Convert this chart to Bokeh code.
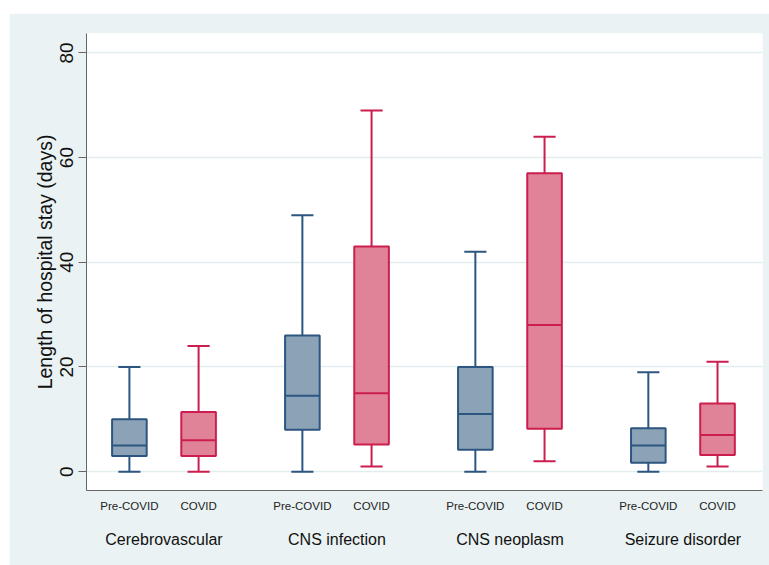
from bokeh.plotting import figure
from bokeh.layouts import column, row
from bokeh.models import Spacer, Range1d, FixedTicker, LinearAxis, ColumnDataSource
from bokeh.embed import file_html
from bokeh.resources import INLINE

# ---- data ----
groups = ["Cerebrovascular", "CNS infection", "CNS neoplasm", "Seizure disorder"]
periods = ["Pre-COVID", "COVID"]

pre_low = [0, 0, 0, 0]
pre_q1 = [3, 8, 4.2, 1.7]
pre_med = [5, 14.5, 11, 5]
pre_q3 = [10, 26, 20, 8.3]
pre_high = [20, 49, 42, 19]

covid_low = [0, 1, 2, 1]
covid_q1 = [3, 5.2, 8.2, 3.2]
covid_med = [6, 15, 28, 7]
covid_q3 = [11.4, 43, 57, 13]
covid_high = [24, 69, 64, 21]

y_ticks = [0, 20, 40, 60, 80]

# ---- styling ----
BG = "#EAF2F3"
FONT = "Liberation Sans"
GROUP_STEP = 5
OFFSET = 2
BOX_W = 1.0
CAP_W = 0.64

series = [
    (pre_low, pre_q1, pre_med, pre_q3, pre_high, "#8CA3B7", "#2C5680"),
    (covid_low, covid_q1, covid_med, covid_q3, covid_high, "#E08399", "#CC1E4E"),
]

p = figure(width=760, height=552, output_backend="svg", toolbar_location=None,
           x_range=Range1d(-1.24, 18.3), y_range=Range1d(-3.6, 83.7),
           min_border_left=77, min_border_right=7, min_border_top=20, min_border_bottom=75)
p.background_fill_color = "white"
p.border_fill_color = BG
p.outline_line_color = None

for s, (lo, q1, med, q3, hi, fill, line) in enumerate(series):
    xs = [g * GROUP_STEP + s * OFFSET for g in range(len(groups))]
    src = ColumnDataSource(dict(
        x=xs, lo=lo, q1=q1, med=med, q3=q3, hi=hi,
        xl=[x - BOX_W / 2 for x in xs], xr=[x + BOX_W / 2 for x in xs],
        cl=[x - CAP_W / 2 for x in xs], cr=[x + CAP_W / 2 for x in xs],
    ))
    # whiskers
    p.segment(x0="x", y0="q3", x1="x", y1="hi", source=src, line_color=line, line_width=2)
    p.segment(x0="x", y0="lo", x1="x", y1="q1", source=src, line_color=line, line_width=2)
    p.segment(x0="cl", y0="hi", x1="cr", y1="hi", source=src, line_color=line, line_width=2)
    p.segment(x0="cl", y0="lo", x1="cr", y1="lo", source=src, line_color=line, line_width=2)
    # box
    p.vbar(x="x", width=BOX_W, bottom="q1", top="q3", source=src,
           fill_color=fill, line_color=line, line_width=2)
    # median
    p.segment(x0="xl", y0="med", x1="xr", y1="med", source=src, line_color=line, line_width=2)

# grid
p.xgrid.grid_line_color = None
p.ygrid.ticker = FixedTicker(ticks=y_ticks)
p.ygrid.grid_line_color = "#E3EDEE"
p.ygrid.grid_line_width = 1.5
p.ygrid.level = "underlay"

# y axis
ya = p.yaxis[0]
ya.ticker = FixedTicker(ticks=y_ticks)
ya.axis_label = "Length of hospital stay (days)"
ya.axis_label_text_font = FONT
ya.axis_label_text_font_size = "19.5px"
ya.axis_label_text_font_style = "normal"
ya.axis_label_text_color = "#111111"
ya.axis_label_standoff = 2
ya.major_label_orientation = "vertical"
ya.major_label_text_font = FONT
ya.major_label_text_font_size = "19px"
ya.major_label_text_color = "#111111"
ya.major_label_standoff = 5
ya.major_tick_out = 8
ya.major_tick_in = 0
ya.minor_tick_line_color = None
ya.axis_line_color = "#666666"
ya.major_tick_line_color = "#666666"

# x axis: period labels
xa = p.xaxis[0]
sub_ticks = [g * GROUP_STEP + s * OFFSET for g in range(len(groups)) for s in range(len(periods))]
sub_labels = [periods[s] for g in range(len(groups)) for s in range(len(periods))]
xa.ticker = FixedTicker(ticks=sub_ticks)
xa.major_label_overrides = {int(t): lab for t, lab in zip(sub_ticks, sub_labels)}
xa.major_label_text_font = FONT
xa.major_label_text_font_size = "11.5px"
xa.major_label_text_color = "#222222"
xa.major_label_standoff = 9
xa.major_tick_out = 0
xa.major_tick_in = 0
xa.minor_tick_line_color = None
xa.major_tick_line_color = None
xa.axis_line_color = "#666666"

# x axis: group labels
grp_ticks = [g * GROUP_STEP + OFFSET / 2 for g in range(len(groups))]
ga = LinearAxis(ticker=FixedTicker(ticks=grp_ticks))
ga.major_label_overrides = {int(t): lab for t, lab in zip(grp_ticks, groups)}
ga.major_label_text_font = FONT
ga.major_label_text_font_size = "16px"
ga.major_label_text_color = "#111111"
ga.major_label_standoff = 16
ga.major_tick_out = 0
ga.major_tick_in = 0
ga.major_tick_line_color = None
ga.minor_tick_line_color = None
ga.axis_line_color = None
p.add_layout(ga, "below")

layout = column(Spacer(height=13, width=769),
                row(Spacer(width=9, height=552), p, spacing=0),
                spacing=0)
open("out.html", "w").write(file_html(layout, INLINE))
